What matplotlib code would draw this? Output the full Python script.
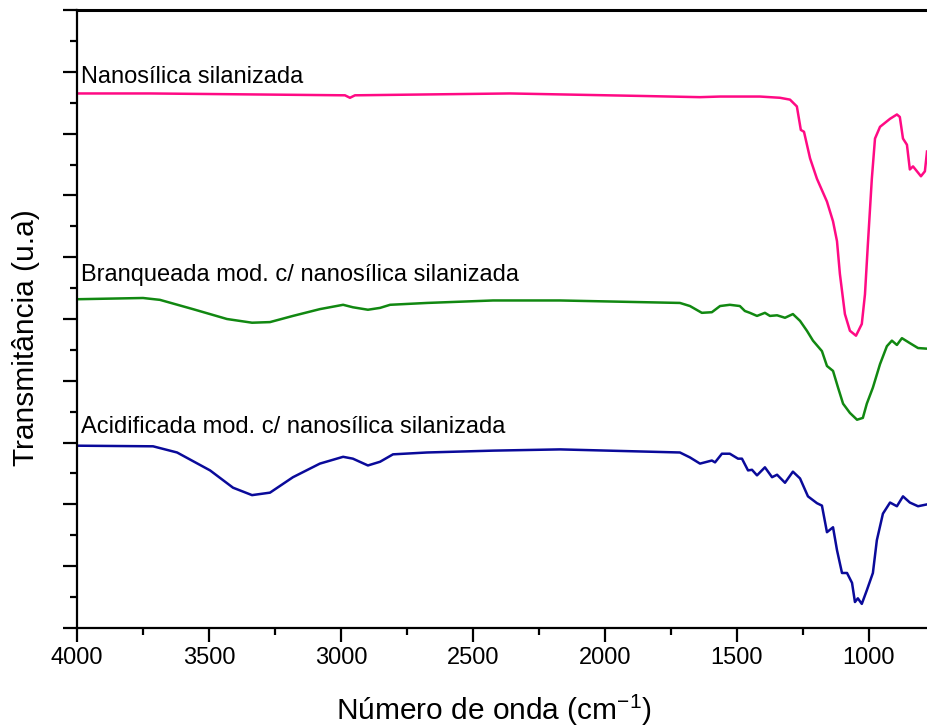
import numpy as np
import matplotlib.pyplot as plt
from matplotlib.ticker import MultipleLocator, NullFormatter

plt.rcParams['font.family'] = ['Liberation Sans', 'DejaVu Sans']
plt.rcParams['mathtext.fontset'] = 'custom'
plt.rcParams['mathtext.rm'] = 'Liberation Sans'

# wavenumbers (cm-1) and transmittance (a.u.) for each spectrum
wn_nano = [4000, 3723, 2985, 2966, 2947, 2360, 1867, 1640, 1564, 1413, 1337, 1299,
           1273, 1258, 1246, 1223, 1197, 1159, 1136, 1121, 1110, 1091, 1072, 1049,
           1027, 1015, 1004, 989, 977, 958, 920, 894, 883, 871, 856, 845, 833, 818,
           803, 788, 780]
t_nano = [86.5, 86.5, 86.2, 85.8, 86.2, 86.5, 86.1, 85.9, 86.0, 86.0, 85.8, 85.5,
          84.4, 80.6, 80.3, 76.0, 72.7, 69.0, 65.8, 62.6, 57.3, 50.8, 48.1, 47.3,
          49.2, 54.0, 62.1, 72.7, 79.2, 81.1, 82.4, 83.1, 82.7, 79.2, 78.2, 74.2,
          74.7, 73.9, 73.1, 73.9, 77.1]

wn_bra = [4000, 3750, 3686, 3561, 3432, 3337, 3269, 3182, 3080, 2992, 2955, 2898,
          2852, 2814, 2674, 2424, 2170, 1716, 1678, 1633, 1595, 1564, 1527, 1489,
          1470, 1451, 1424, 1394, 1375, 1348, 1318, 1288, 1261, 1235, 1212, 1178,
          1159, 1136, 1117, 1098, 1072, 1045, 1023, 1008, 985, 958, 932, 913, 894,
          875, 845, 814, 780]
t_bra = [53.2, 53.4, 53.1, 51.6, 50.0, 49.4, 49.5, 50.5, 51.6, 52.3, 51.9, 51.5,
         51.8, 52.3, 52.6, 53.0, 53.0, 52.6, 52.1, 51.0, 51.1, 52.1, 52.3, 52.1,
         51.3, 51.0, 50.5, 51.0, 50.5, 50.6, 50.2, 50.8, 49.7, 48.1, 46.5, 44.8,
         42.4, 41.6, 38.9, 36.3, 34.8, 33.7, 34.0, 36.3, 38.9, 42.7, 45.6, 46.5,
         45.8, 46.9, 46.1, 45.3, 45.2]

wn_aci = [4000, 3712, 3621, 3496, 3409, 3337, 3269, 3182, 3080, 2992, 2955, 2898,
          2852, 2803, 2674, 2424, 2170, 1716, 1678, 1640, 1595, 1583, 1557, 1527,
          1496, 1481, 1458, 1443, 1424, 1394, 1367, 1348, 1318, 1288, 1261, 1231,
          1197, 1178, 1159, 1136, 1121, 1102, 1083, 1064, 1053, 1042, 1027, 1008,
          985, 970, 947, 920, 894, 871, 845, 814, 780]
t_aci = [29.5, 29.4, 28.4, 25.5, 22.7, 21.5, 21.9, 24.4, 26.6, 27.7, 27.4, 26.3,
         26.9, 28.1, 28.4, 28.7, 28.9, 28.4, 27.6, 26.6, 27.1, 26.8, 28.2, 28.2,
         27.4, 27.4, 25.5, 25.6, 24.7, 26.0, 24.4, 24.8, 23.5, 25.3, 24.2, 21.3,
         20.2, 19.8, 15.5, 16.3, 12.6, 8.9, 8.9, 7.3, 4.2, 4.8, 3.9, 6.1,
         8.9, 14.2, 18.5, 20.3, 19.7, 21.3, 20.3, 19.7, 20.0]

labels = ['Nanosílica silanizada',
          'Branqueada mod. c/ nanosílica silanizada',
          'Acidificada mod. c/ nanosílica silanizada']
label_y = [88.2, 56.1, 31.6]
colors = ['#ff0a84', '#118811', '#0a0a9a']

fig = plt.figure(figsize=(9.27, 7.27), dpi=100)
ax = fig.add_axes([0.0831, 0.1362, 0.9169, 0.85])

for wn, t, c in zip([wn_nano, wn_bra, wn_aci], [t_nano, t_bra, t_aci], colors):
    ax.plot(wn, t, color=c, lw=1.8)

for lab, y in zip(labels, label_y):
    ax.text(3985, y, lab, fontsize=17, va='baseline', ha='left')

ax.set_xlim(4000, 780)
ax.set_ylim(0, 100)
ax.xaxis.set_major_locator(MultipleLocator(500))
ax.xaxis.set_minor_locator(MultipleLocator(250))
ax.yaxis.set_major_locator(MultipleLocator(10))
ax.yaxis.set_minor_locator(MultipleLocator(5))
ax.yaxis.set_major_formatter(NullFormatter())

ax.spines['right'].set_visible(False)
for s in ['left', 'bottom']:
    ax.spines[s].set_linewidth(1.6)
ax.spines['top'].set_linewidth(2.2)

ax.tick_params(which='major', direction='out', length=10, width=1.6, labelsize=17, pad=4)
ax.tick_params(which='minor', direction='out', length=5, width=1.6)

ax.set_xlabel('Número de onda (cm$\\mathregular{^{-1}}$)', fontsize=21.5, labelpad=18)
ax.set_ylabel('Transmitância (u.a)', fontsize=21.5)
ax.xaxis.set_label_coords(0.49, -0.105)
ax.yaxis.set_label_coords(-0.043, 0.47)

fig.savefig('out.png', dpi=100)
